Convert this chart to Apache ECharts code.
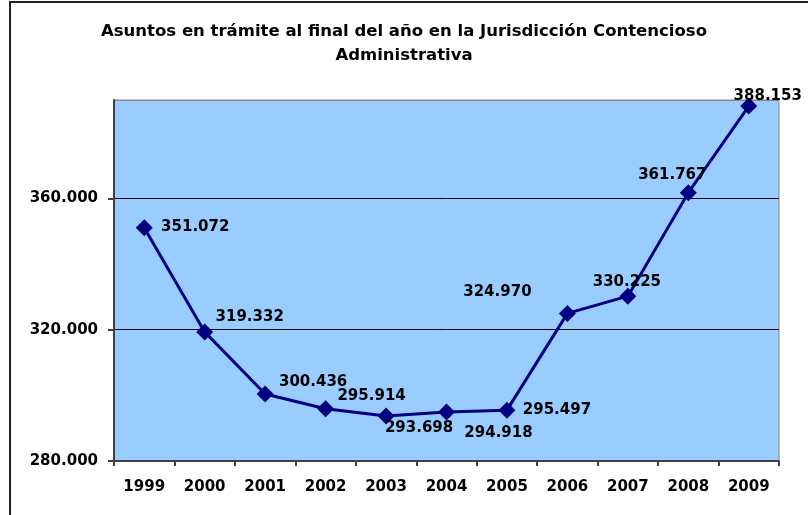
<!DOCTYPE html>
<html>
<head>
<meta charset="utf-8">
<script src="https://cdn.jsdelivr.net/npm/echarts@6/dist/echarts.min.js"></script>
<style>
  html, body { margin: 0; padding: 0; background: #fff; }
  #chart { width: 808px; height: 515px; }
</style>
</head>
<body>
<div id="chart"></div>
<script>
// datos
const years = ['1999', '2000', '2001', '2002', '2003', '2004', '2005', '2006', '2007', '2008', '2009']
const asuntos = [351072, 319332, 300436, 295914, 293698, 294918, 295497, 324970, 330225, 361767, 388153]
const yMin = 280000
const yMax = 390000
const yStep = 40000

// desplazamiento de cada etiqueta respecto a su punto
const labelOffsets = [
  [51, -1], [45, -15], [48, -12], [46, -13], [33, 12], [52, 21],
  [50, 0], [-70, -21], [-1, -14], [-16, -18], [19, -10]
]

const fmt = (v) => String(v).replace(/\B(?=(\d{3})+(?!\d))/g, '.')

const chart = echarts.init(document.getElementById('chart'))
chart.setOption({
  backgroundColor: '#fff',
  animation: false,
  title: {
    text: 'Asuntos en trámite al final del año en la Jurisdicción Contencioso\nAdministrativa',
    left: 'center',
    top: 15,
    textStyle: {
      fontFamily: 'DejaVu Sans',
      fontWeight: 'bold',
      fontSize: 16.5,
      lineHeight: 24,
      color: '#000'
    }
  },
  graphic: [
    {
      type: 'rect',
      shape: { x: 10, y: 2, width: 900, height: 600 },
      style: { fill: 'none', stroke: '#222', lineWidth: 2 },
      silent: true
    }
  ],
  grid: {
    left: 114,
    right: 29,
    top: 100,
    bottom: 54,
    show: true,
    backgroundColor: '#99CCFF',
    borderColor: '#888',
    borderWidth: 1
  },
  xAxis: {
    type: 'category',
    data: years,
    boundaryGap: true,
    axisLine: { lineStyle: { color: '#404040', width: 2 } },
    axisTick: { show: true, length: 5, lineStyle: { color: '#404040', width: 2 } },
    axisLabel: {
      margin: 19,
      color: '#000',
      fontFamily: 'DejaVu Sans',
      fontWeight: 'bold',
      fontSize: 15
    }
  },
  yAxis: {
    type: 'value',
    min: yMin,
    max: yMax,
    interval: yStep,
    axisLine: { show: true, lineStyle: { color: '#404040', width: 2 } },
    axisTick: { show: true, length: 6, lineStyle: { color: '#404040', width: 2 } },
    axisLabel: {
      margin: 16,
      showMaxLabel: false,
      color: '#000',
      fontFamily: 'DejaVu Sans',
      fontWeight: 'bold',
      fontSize: 15,
      formatter: fmt
    },
    splitLine: { show: true, lineStyle: { color: ['#000', '#000', '#000', '#888'], width: 1 } }
  },
  series: [
    {
      type: 'line',
      data: asuntos.map((v, i) => ({
        value: v,
        label: { offset: labelOffsets[i] }
      })),
      symbol: 'diamond',
      symbolSize: 17,
      lineStyle: { color: '#000080', width: 3 },
      itemStyle: { color: '#000080' },
      label: {
        show: true,
        position: 'inside',
        color: '#000',
        fontFamily: 'DejaVu Sans',
        fontWeight: 'bold',
        fontSize: 15,
        formatter: (p) => fmt(p.value)
      }
    }
  ]
})
</script>
</body>
</html>
